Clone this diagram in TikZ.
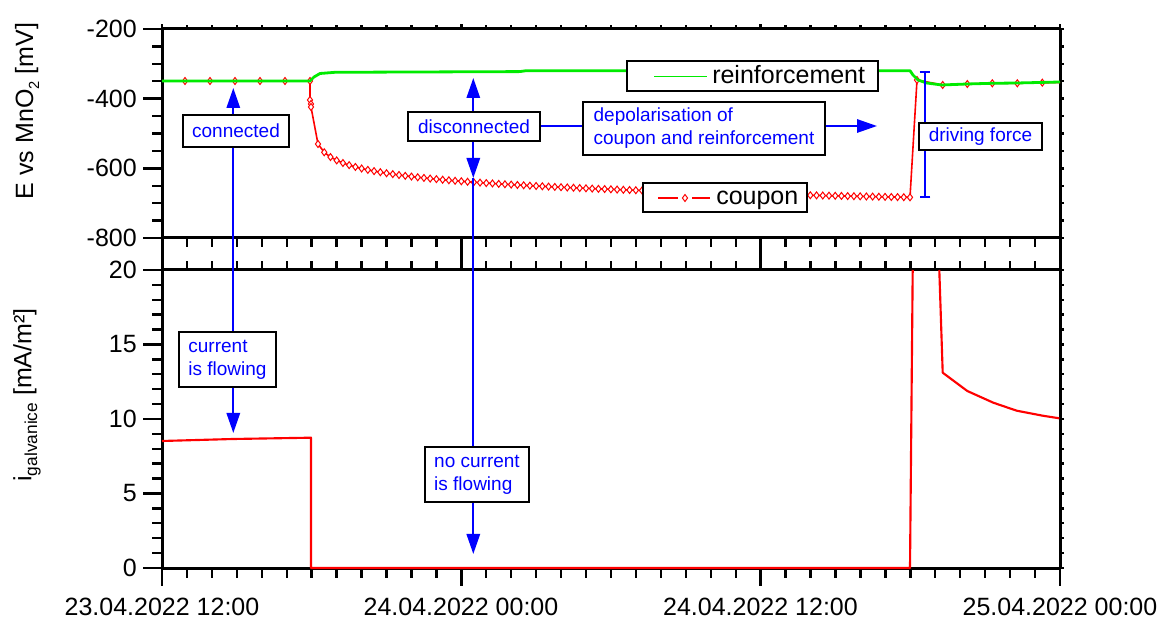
\documentclass[tikz,border=0pt]{standalone}
\usepackage{fontspec}
\setmainfont{Liberation Sans}
\usetikzlibrary{arrows.meta,plotmarks}
\definecolor{grn}{RGB}{0,235,0}
\newcommand{\lowtxt}[2]{\raisebox{-0.45ex}{\fontsize{#1}{#1}\selectfont #2}}
\begin{document}
\begin{tikzpicture}[x=0.75pt,y=-0.75pt,
  axisline/.style={line width=2.25pt},
  tickline/.style={line width=1.8pt},
  lbl/.style={font=\fontsize{18.75}{22}\selectfont, inner sep=0pt},
  note/.style={draw=black, fill=white, line width=1.1pt, text=blue, font=\fontsize{14.25}{17.25}\selectfont, align=left, inner sep=0pt},
  legbox/.style={draw=black, fill=white, line width=1.1pt, inner sep=0pt},
  arr/.style={draw=blue, line width=1.5pt, -{Triangle[length=15pt,width=10pt]}},
  bline/.style={draw=blue, line width=1.5pt},
  redline/.style={draw=red, line width=1.2pt, line join=round},
  redthick/.style={draw=red, line width=1.6pt, line join=round},
  grnline/.style={draw=grn, line width=2.1pt, line join=round},
  mk/.style={only marks, mark=diamond*, mark size=2.6pt, mark options={draw=red, fill=white, line width=0.75pt}}]
\useasboundingbox (0,0) rectangle (1168,623);

% ---------- frame ----------
\draw[axisline] (162,29) -- (1060,29);
\draw[axisline] (162,238) -- (1060,238);
\draw[axisline] (162,270) -- (1060,270);
\draw[axisline] (162,568) -- (1060,568);
\draw[axisline] (162,29) -- (162,568);
\draw[axisline] (1060,29) -- (1060,568);

% ---------- time ticks ----------
\foreach \k in {0,...,36}{
  \pgfmathsetmacro{\xx}{162+\k*24.9444}
  \pgfmathtruncatemacro{\mj}{mod(\k,12)}
  \ifnum\mj=0
    \draw[tickline] (\xx,568) -- (\xx,586);
    \draw[tickline] (\xx,238) -- (\xx,270);
    \draw[tickline] (\xx,29) -- (\xx,24);
  \else
    \draw[tickline] (\xx,568) -- (\xx,578);
    \draw[tickline] (\xx,238) -- (\xx,247);
    \draw[tickline] (\xx,270) -- (\xx,261);
    \draw[tickline] (\xx,29) -- (\xx,25.5);
  \fi
}

% ---------- potential axis ticks ----------
\foreach \v in {0,...,12}{
  \pgfmathsetmacro{\yy}{29+\v*17.4167}
  \pgfmathtruncatemacro{\mj}{mod(\v,4)}
  \ifnum\mj=0
    \draw[tickline] (143,\yy) -- (162,\yy);
  \else
    \draw[tickline] (152,\yy) -- (162,\yy);
  \fi
  \draw[tickline] (1060,\yy) -- (1064,\yy);
}
% ---------- current axis ticks ----------
\foreach \v in {0,...,20}{
  \pgfmathsetmacro{\yy}{568-\v*14.9}
  \pgfmathtruncatemacro{\mj}{mod(\v,5)}
  \ifnum\mj=0
    \draw[tickline] (143,\yy) -- (162,\yy);
  \else
    \draw[tickline] (152,\yy) -- (162,\yy);
  \fi
  \draw[tickline] (1060,\yy) -- (1064,\yy);
}

% ---------- tick labels ----------
\node[lbl, anchor=east] (ya1) at (137,29) {-200};
\node[lbl, anchor=east] (ya2) at (137,98.7) {-400};
\node[lbl, anchor=east] (ya3) at (137,168.3) {-600};
\node[lbl, anchor=east] (ya4) at (137,238) {-800};
\node[lbl, anchor=east] (yb20) at (137,270) {20};
\node[lbl, anchor=east] (yb15) at (137,344.5) {15};
\node[lbl, anchor=east] (yb10) at (137,419) {10};
\node[lbl, anchor=east] (yb5) at (137,493.5) {5};
\node[lbl, anchor=east] (yb0) at (137,568) {0};
\node[lbl] (xl1) at (162,607) {23.04.2022 12:00};
\node[lbl] (xl2) at (461,607) {24.04.2022 00:00};
\node[lbl] (xl3) at (760.5,607) {24.04.2022 12:00};
\node[lbl] (xl4) at (1060,607) {25.04.2022 00:00};

% ---------- axis titles ----------
\node[lbl, rotate=90] (ytitleE) at (27,111) {E vs MnO\lowtxt{11}{2} [mV]};
\node[lbl, rotate=90] (ytitleI) at (27,395) {i\lowtxt{13}{galvanice} [mA/m²]};

% ---------- potential curves ----------
\draw[redline] (162,81) -- (310,81) -- (310,100) -- (311,107) -- (318,144);
\draw[redline] plot[domain=318:910, samples=96] (\x,{123.25+11.59*ln(\x-312)});
\draw[redline] (910,197.3) -- (917,80) -- (942.7,85) -- (967.3,84) -- (992.3,83.3) -- (1017.3,83.3) -- (1060,82.5);
\draw[mk] plot[domain=318:910, samples=96] (\x,{123.25+11.59*ln(\x-312)});
\draw[mk] plot coordinates {(185,81) (210,81) (235,81) (260,81) (285,81) (310,81) (310,100) (311,104) (311,107) (917,80) (942.7,85) (967.3,84) (992.3,83.3) (1017.3,83.3) (1042.3,82.7)};
\draw[grnline] (162,81) -- (310,81) -- (314,77) -- (320,73.5) -- (335,72.3) -- (520,71.6) -- (526,70.7) -- (910,70.7) -- (913,75) -- (918,80) -- (926.7,83) -- (941.7,85) -- (967,84) -- (992,83.3) -- (1017,83) -- (1060,82);

% ---------- current curve ----------
\draw[redthick] (162,441) -- (233,439) -- (311,437.7) -- (311,568) -- (910,568) -- (912.7,270);
\draw[redthick] (939.3,270) -- (942.7,372.7) -- (967.3,391) -- (993.3,402.7) -- (1016.7,410.7) -- (1042.7,415.7) -- (1059.3,418.3);

% ---------- driving force bar ----------
\coordinate (dft) at (925,71);
\coordinate (dfb) at (925,198);
\draw[blue, line width=1.5pt, {Bar[width=8pt]}-{Bar[width=8pt]}] (dft) -- (dfb);

% ---------- legend ----------
\node[legbox, minimum width=188.25pt, minimum height=22.5pt] (legR) at (752.5,76) {};
\draw[grnline, line width=1.4pt] (654,76.5) -- (707,76.5);
\node[lbl, anchor=mid west] (legRt) at (712,80) {reinforcement};
\node[legbox, minimum width=123pt, minimum height=21.75pt] (legC) at (725,197.5) {};
\draw[redthick] (658,198) -- (678,198);
\draw[redthick] (692,198) -- (710,198);
\draw[mk] plot coordinates {(685,198)};
\node[lbl, anchor=mid west] (legCt) at (716,201) {coupon};

% ---------- annotation boxes ----------
\node[note, minimum width=79.5pt, minimum height=24pt] (conn) at (236,131) {connected};
\node[note, minimum width=72.75pt, minimum height=41.25pt] (cur) at (227.5,359.5) {current\\is flowing};
\node[note, minimum width=99pt, minimum height=21.75pt] (disc) at (474,126.5) {disconnected};
\node[note, minimum width=78pt, minimum height=41.25pt] (nocur) at (477,474.5) {no current\\is flowing};
\node[note, minimum width=181.5pt, minimum height=39.75pt] (depol) at (704,128.5) {depolarisation of\\coupon and reinforcement};
\node[note, minimum width=92.25pt, minimum height=20.25pt] (drive) at (980.5,136.5) {driving force};

% ---------- connectors ----------
\coordinate (cup) at (233.3,88);
\coordinate (cdn) at (233.3,433);
\draw[arr] (conn.north -| cup) -- (cup);
\draw[bline] (conn.south -| cup) -- (cur.north -| cup);
\draw[arr] (cur.south -| cup) -- (cdn);

\coordinate (dup) at (473.3,78);
\coordinate (dmid) at (473.3,178);
\coordinate (ddn) at (473.3,554);
\draw[arr] (disc.north -| dup) -- (dup);
\draw[arr] (disc.south -| dup) -- (dmid);
\draw[bline] (dmid) -- (nocur.north -| dup);
\draw[arr] (nocur.south -| dup) -- (ddn);

\coordinate (dtip) at (877,126);
\draw[bline] (disc.east |- dtip) -- (depol.west |- dtip);
\draw[arr] (depol.east |- dtip) -- (dtip);
\end{tikzpicture}
\end{document}
